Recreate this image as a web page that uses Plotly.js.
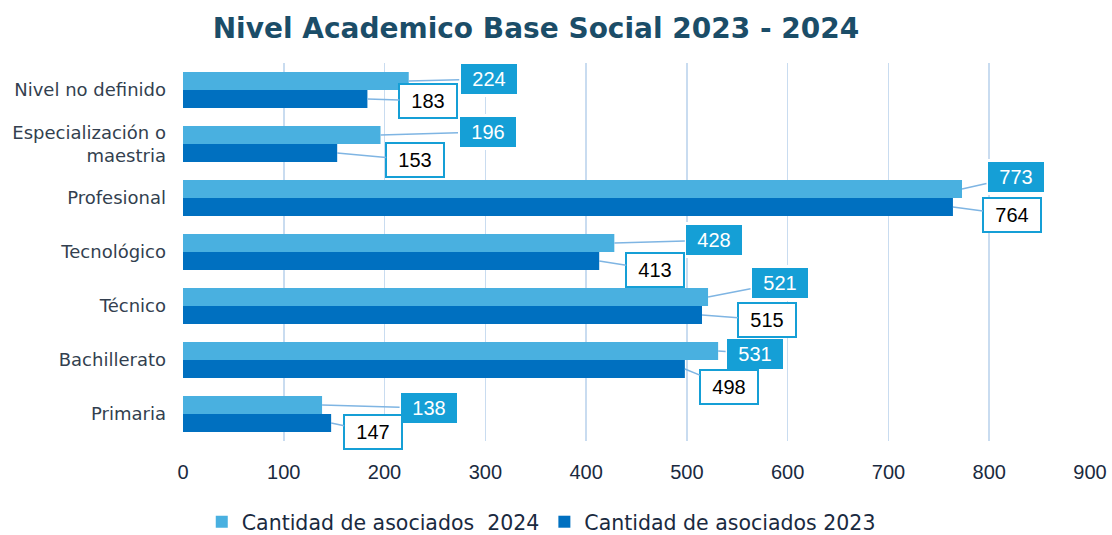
<!DOCTYPE html>
<html><head><meta charset="utf-8">
<script src="https://cdn.plot.ly/plotly-3.0.1.min.js"></script>
<style>body{margin:0;background:#fff}#c{width:1112px;height:535px}</style>
</head><body><div id="c"></div>
<script>
const categories = ["Nivel no definido", "Especialización o<br>maestria", "Profesional", "Tecnológico", "Técnico", "Bachillerato", "Primaria"];
const values2024 = [224, 196, 773, 428, 521, 531, 138];
const values2023 = [183, 153, 764, 413, 515, 498, 147];
const seriesNames = ["Cantidad de asociados  2024", "Cantidad de asociados 2023"];
const xTicks = [0, 100, 200, 300, 400, 500, 600, 700, 800, 900];

// label offsets (pixels) for callouts
const off2024 = [[80,-2],[107,-3],[54,-12],[100,-3],[72,-14],[37,3],[107,3]];
const off2023 = [[61,2],[78,7],[59,8],[56,9],[65,5],[44,18],[42,9]];

const c24 = "#49B0E0", c23 = "#0070C0", lab = "#159FD6";
const traces = [
  {type:"bar", orientation:"h", name:seriesNames[0], x:values2024, y:categories, marker:{color:c24}},
  {type:"bar", orientation:"h", name:seriesNames[1], x:values2023, y:categories, marker:{color:c23}}
];
const ann = [];
const bw = 0.6667/2;
values2024.forEach((v,i)=>{
  ann.push({x:v, y:i - bw/2, xref:"x", yref:"y", text:String(v), showarrow:true, arrowhead:0, arrowwidth:1.5, arrowcolor:"#7FB5E3",
    ax:off2024[i][0], ay:off2024[i][1], bgcolor:lab, bordercolor:"#ffffff", borderwidth:3, borderpad:4,
    font:{family:"Liberation Sans, Arial", size:20, color:"#fff"}, width:48});
});
values2023.forEach((v,i)=>{
  ann.push({x:v, y:i + bw/2, xref:"x", yref:"y", text:String(v), showarrow:true, arrowhead:0, arrowwidth:1.5, arrowcolor:"#7FB5E3",
    ax:off2023[i][0], ay:off2023[i][1], bgcolor:"#fff", bordercolor:lab, borderwidth:2, borderpad:5,
    font:{family:"Liberation Sans, Arial", size:20, color:"#000"}, width:46});
});
const layout = {
  width:1112, height:535,
  margin:{l:183, r:22, t:63, b:94, autoexpand:false},
  paper_bgcolor:"#fff", plot_bgcolor:"rgba(0,0,0,0)",
  title:{text:"<b>Nivel Academico Base Social 2023 - 2024</b>", x:0.482, xanchor:"center", y:0.948, yanchor:"middle",
    font:{family:"DejaVu Sans, sans-serif", size:28, color:"#1B4D68"}},
  barmode:"group", bargap:0.333, bargroupgap:0,
  xaxis:{range:[0,900], tickvals:xTicks, ticktext:xTicks.map(String), showgrid:true, gridcolor:"#C9DCF0", gridwidth:1.5,
    zeroline:false, showline:false, ticks:"", ticklabelstandoff:17,
    tickfont:{family:"Liberation Sans, Arial", size:20, color:"#1A2A40"}, fixedrange:true},
  yaxis:{type:"category", autorange:"reversed", showgrid:false, zeroline:false, ticks:"", ticklabelstandoff:16,
    tickfont:{family:"DejaVu Sans, sans-serif", size:18, color:"#333F4F"}},
  legend:{orientation:"h", x:0.395, xanchor:"center", y:-0.214, yanchor:"middle", traceorder:"normal",
    font:{family:"DejaVu Sans, sans-serif", size:20.5, color:"#1A2A40"}},
  annotations:ann, showlegend:true
};
Plotly.newPlot("c", traces, layout, {displayModeBar:false, staticPlot:true});
</script></body></html>
